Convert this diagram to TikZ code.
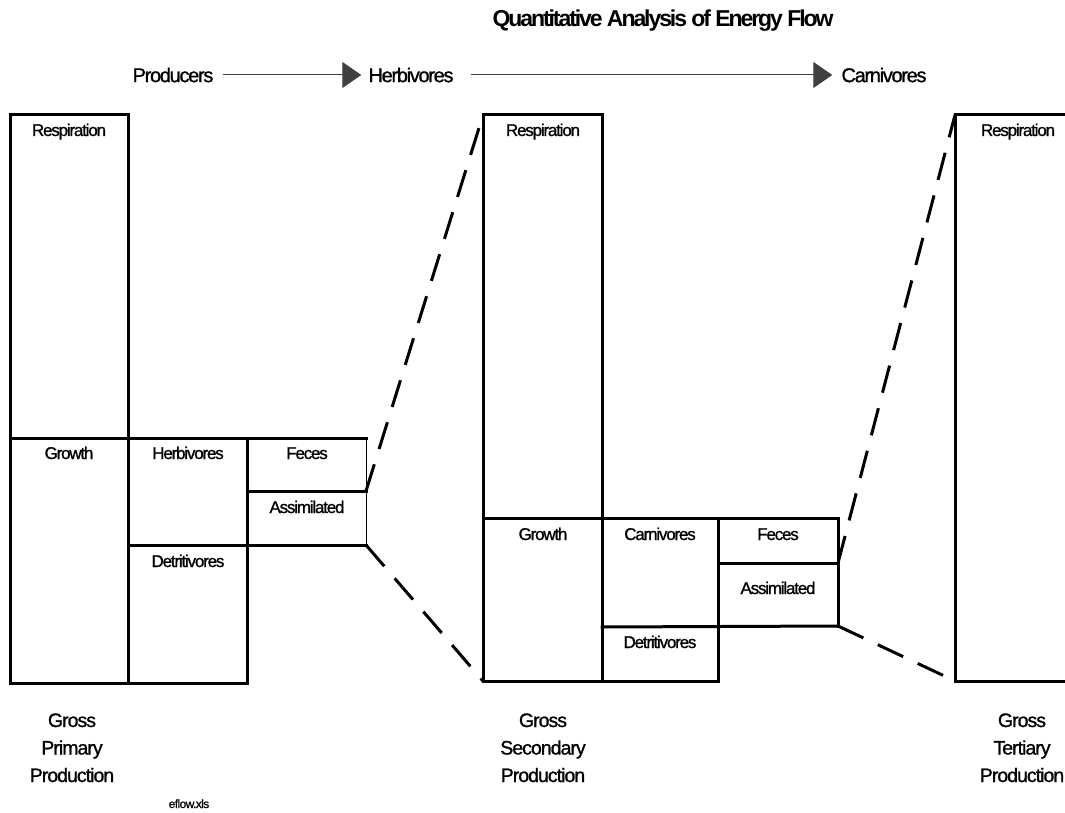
\documentclass[tikz,border=0pt]{standalone}
\usepackage{fontspec}
\setmainfont{Liberation Sans}[LetterSpace=-5,FakeBold=1]
\newfontfamily\cellfont{Liberation Sans}[LetterSpace=-7,FakeBold=1]
\newfontfamily\levelfont{Liberation Sans}[LetterSpace=-6.5,FakeBold=1]
\newfontfamily\titlefont{Liberation Sans}[LetterSpace=-9]
\usetikzlibrary{arrows.meta}
\begin{document}
\begin{tikzpicture}[x=1pt,y=-1pt,
  box/.style={line width=3pt,line cap=rect},
  zoom/.style={line width=3pt,dash pattern=on 28pt off 16pt},
  flow/.style={line width=1pt,black!75,-{Triangle[length=19pt,width=26pt]}},
  lab/.style={anchor=base,inner sep=0pt,font=\cellfont\fontsize{17}{19}\selectfont},
  trophic/.style={inner sep=0pt,font=\levelfont\fontsize{20}{24}\selectfont},
  gross/.style={anchor=base,align=center,inner sep=0pt,font=\fontsize{19.5}{27.5}\selectfont}]
\useasboundingbox (0,0) rectangle (1065,813);
\node[anchor=base,font=\titlefont\bfseries\fontsize{23}{26}\selectfont] (title) at (663,27) {Quantitative Analysis of Energy Flow};
\node[trophic] (prod) at (173,75) {Producers};
\node[trophic] (herb) at (411,75) {Herbivores};
\node[trophic] (carn) at (884,75) {Carnivores};
\draw[flow,shorten <=9pt,shorten >=7pt] (prod) -- (herb);
\draw[flow,shorten <=17pt,shorten >=9pt] (herb) -- (carn);
% producers
\draw[box] (10,115) rectangle (128,683);
\draw[box] (10,438) -- (366,438);
\draw[box] (128,683) -- (247,683) -- (247,438);
\draw[box] (128,545) -- (366,545);
\draw[box] (247,491) -- (366,491);
\draw[line width=1pt] (366,438) -- (366,545);
\coordinate (p1) at (366,491);
\coordinate (p2) at (366,545);
\node[lab] (resp1) at (69,136) {Respiration};
\node[lab] (grow1) at (69,459) {Growth};
\node[lab] (herb1) at (188,459) {Herbivores};
\node[lab] (fec1) at (307,459) {Feces};
\node[lab] (ass1) at (307,513) {Assimilated};
\node[lab] (det1) at (188,567) {Detritivores};
% herbivores
\draw[box] (483,115) rectangle (602,681);
\draw[box] (483,518) -- (838,518) -- (838,626);
\draw[box] (602,627) -- (838,626);
\draw[box] (602,681) -- (718,681) -- (718,518);
\draw[box] (718,563) -- (838,563);
\coordinate (h0) at (483,115);
\coordinate (h9) at (483,681);
\coordinate (h1) at (838,563);
\coordinate (h2) at (838,626);
\node[lab] (resp2) at (543,136) {Respiration};
\node[lab] (grow2) at (543,540) {Growth};
\node[lab] (carn2) at (660,540) {Carnivores};
\node[lab] (fec2) at (778,540) {Feces};
\node[lab] (ass2) at (778,594) {Assimilated};
\node[lab] (det2) at (660,648) {Detritivores};
% carnivores
\draw[box] (1075,115) -- (955,115) -- (955,681) -- (1075,681);
\coordinate (c0) at (955,115);
\coordinate (c9) at (955,681);
\node[lab] (resp3) at (1018,136) {Respiration};
% zoom lines
\draw[zoom] (p1) -- (h0);
\draw[zoom] (p2) -- (h9);
\draw[zoom] (h1) -- (c0);
\draw[zoom] (h2) -- (c9);
% bottom
\node[gross] (gpp) at (72,782) {Gross\\Primary\\Production};
\node[gross] (gsp) at (543,782) {Gross\\Secondary\\Production};
\node[gross] (gtp) at (1022,782) {Gross\\Tertiary\\Production};
\node[anchor=base,inner sep=0pt,font=\fontsize{12}{14}\selectfont] (file) at (189,808) {eflow.xls};
\end{tikzpicture}
\end{document}
